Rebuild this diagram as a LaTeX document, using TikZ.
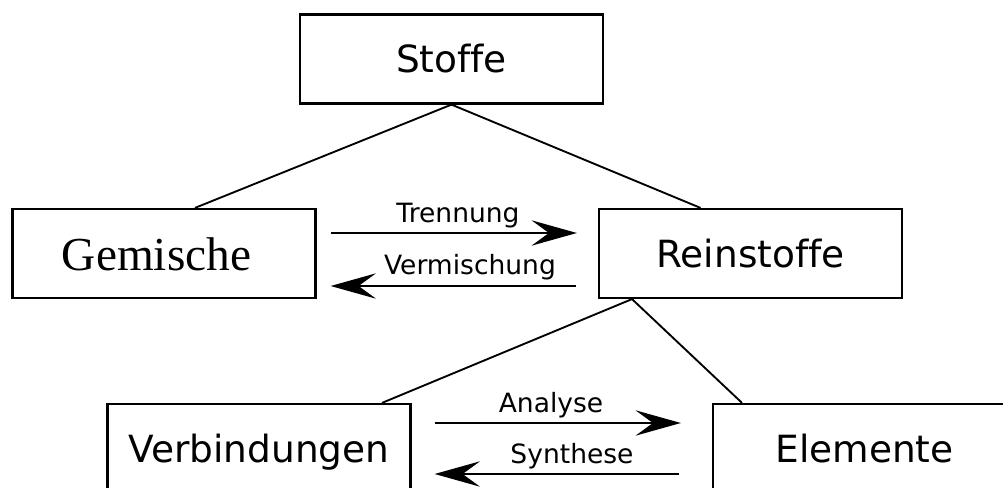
\documentclass[tikz,border=0pt]{standalone}
\usepackage{fontspec}
\setmainfont[Ligatures={NoCommon}]{DejaVu Sans}
\newfontfamily\serifgem{Liberation Serif}
\usetikzlibrary{arrows.meta,calc}
\begin{document}
\begin{tikzpicture}[x=0.75pt,y=-0.75pt,
  box/.style={draw=black, line width=1.9pt, minimum width=227pt, minimum height=66.5pt,
    inner sep=0pt, font=\fontsize{28.1pt}{32pt}\selectfont, text height=20.5pt, text depth=0pt},
  gemtext/.style={inner sep=0pt, font=\serifgem\fontsize{35.5pt}{40pt}\selectfont, text height=23.5pt, text depth=0pt},
  lab/.style={anchor=base, inner sep=0pt, font=\fontsize{19.9pt}{22pt}\selectfont},
  conn/.style={draw=black, line width=1.4pt},
  arr/.style={draw=black, line width=1.6pt, -{Stealth[length=34pt,width=19pt,inset=13pt]}}]
\useasboundingbox (0,0) rectangle (1003,488);
\clip (0,0) rectangle (1003,488);
\node[box] (stoffe) at (451.5,59) {Stoffe};
\node[box] (gem) at (164,253.5) {};
\node[gemtext] (gemt) at (156.5,254.5) {Gemische};
\node[box] (rein) at (750.5,253.5) {Reinstoffe};
\node[box] (verb) at (259,448.5) {Verbindungen};
\node[box] (elem) at (864.5,448.5) {Elemente};
\draw[conn] (stoffe.south) -- ($(gem.north)+(31,0)$);
\draw[conn] (stoffe.south) -- ($(rein.north)+(-50,0)$);
\draw[conn] ($(rein.south)+(-118.5,0)$) -- ($(verb.north)+(123,0)$);
\draw[conn] ($(rein.south)+(-118.5,0)$) -- ($(elem.north)+(-122.5,0)$);
\draw[arr] ($(gem.east)+(14,-20.5)$) -- ($(rein.west)+(-21,-20.5)$);
\draw[arr] ($(rein.west)+(-22,32.5)$) -- ($(gem.east)+(14,32.5)$);
\draw[arr] ($(verb.east)+(23,-25.5)$) -- ($(elem.west)+(-31,-25.5)$);
\draw[arr] ($(elem.west)+(-33,25.5)$) -- ($(verb.east)+(23,25.5)$);
\node[lab] (ltr) at (458,223) {Trennung};
\node[lab] (lve) at (470,275) {Vermischung};
\node[lab] (lan) at (551,412) {Analyse};
\node[lab] (lsy) at (572,463) {Synthese};
\end{tikzpicture}
\end{document}
